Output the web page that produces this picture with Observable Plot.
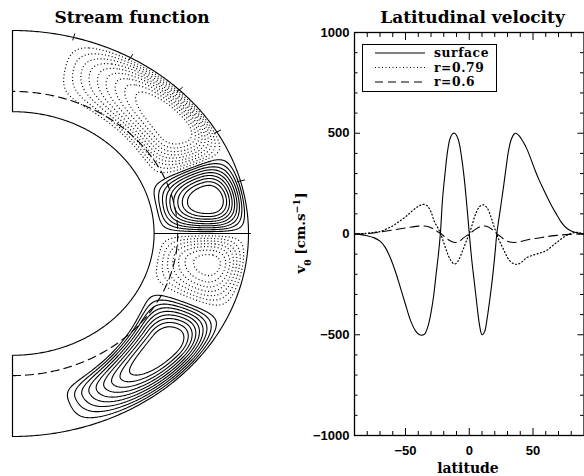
<!DOCTYPE html>
<html><head><meta charset="utf-8">
<script src="https://cdn.jsdelivr.net/npm/d3@7"></script>
<script src="https://cdn.jsdelivr.net/npm/@observablehq/plot@0.6"></script>
<style>
body{margin:0;background:#fff;}
#wrap{position:relative;width:584px;height:476px;overflow:hidden;background:#fff;}
#wrap svg{position:absolute;left:0;top:0;}
</style></head><body><div id="wrap"></div>
<script>
// ---------- Right panel: latitudinal velocity (cm/s) vs latitude ----------
const surfLat = [-90,-85,-80,-75,-70,-66,-62,-58,-54,-50,-46,-42,-39,-37,-35,-32,-30,-28,-26,-24,-22.5,-21,-19,-17,-15,-13,-11.5,-10,-8,-6,-4,-2,0,2,4,6,8,10,12,14,16,18,20,21.6,23,25,27,29,31,33,35,36.5,39,42,45,48,52,55,58,62,65,68.5,72,76,80,85,90];
const surfV = [0,-3,-9,-18,-35,-65,-117,-185,-266,-350,-430,-482,-500,-502,-497,-450,-390,-310,-200,-90,15,170,300,411,475,498,500,490,455,380,280,150,5,-130,-240,-350,-450,-500,-485,-420,-330,-230,-110,0,65,150,240,335,420,470,495,500,488,460,425,378,310,265,225,172,135,97,60,31,15,5,0];
const dotLat = [-90,-85,-80,-75,-70,-65,-60,-55,-50,-45,-40,-36,-33,-30,-27.5,-25,-23,-21,-18,-15,-12,-10,-8,-5,-2,0,2,5,8,11,14,17,19,21,23,26,29,32,35,38,41,45,50,55,60,65,70,75,80,85,90];
const dotV = [0,2,4,8,12,25,40,62,85,113,137,147,140,110,64,35,10,-25,-80,-125,-148,-145,-125,-80,-30,0,40,100,135,145,130,85,45,10,-25,-65,-105,-135,-148,-150,-140,-118,-105,-95,-84,-60,-35,-12,3,8,0];
const dashLat = [-90,-85,-80,-75,-70,-65,-60,-55,-50,-45,-40,-36,-32,-28,-25,-22,-19,-16,-13,-11,-8,-5,-2,0,3,6,9,12,15,18,21,23,26,29,32,35,38,42,47,52,57,62,67,72,78,84,90];
const dashV = [0,0,2,5,10,15,20,25,30,35,39,40,36,25,12,0,-15,-30,-40,-42,-37,-22,-8,0,15,28,37,40,35,22,5,-5,-20,-33,-40,-42,-40,-35,-27,-22,-17,-12,-8,-5,-2,0,0];
const seriesNames = ["surface", "r=0.79", "r=0.6"];
const xMajor = [-50, 0, 50];
const xMinor = [-80,-70,-60,-40,-30,-20,-10,10,20,30,40,60,70,80];
const yMajor = [-1000, -500, 0, 500, 1000];
const yMinor = [-900,-800,-700,-600,-400,-300,-200,-100,100,200,300,400,600,700,800,900];

// ---------- Left panel: stream function cells (meridional plane) ----------
const shellInner = 0.6, tachocline = 0.7;
const boundaryTickLat = [15, 30, 45, 60, 75];
const cellSign    = [1, -1, -1, 1];
const cellLatLo   = [0, 23, -24, -76];
const cellLatPeak = [11, 37, -10, -40];
const cellLatHi   = [24, 77, 0, -24];
const cellRPeak   = [0.85, 0.87, 0.85, 0.85];
const cellRLoEq   = [0.61, 0.65, 0.61, 0.62];
const cellRLoPole = [0.61, 0.68, 0.61, 0.78];
const cellAmp     = [1.1, 1.1, 0.78, 1.1];
const psiLevels   = [0.1,0.2,0.3,0.4,0.5,0.6,0.7,0.8,0.9];
const shapePow = 1.0;

function bump(u, a, c, b) {
  if (u <= a || u >= b) return 0;
  return u < c ? Math.sin(Math.PI / 2 * (u - a) / (c - a)) : Math.sin(Math.PI / 2 * (b - u) / (b - c));
}
function psi(s, z) {
  const r = Math.hypot(s, z);
  if (s < 0 || r <= shellInner || r >= 1) return 0;
  const lat = Math.atan2(z, s) * 180 / Math.PI;
  let v = 0;
  for (let i = 0; i < cellSign.length; i++) {
    const lo = cellLatLo[i], hi = cellLatHi[i];
    if (lat <= lo || lat >= hi) continue;
    const eqEdge = Math.abs(lo) < Math.abs(hi) ? lo : hi;
    const poleEdge = eqEdge === lo ? hi : lo;
    const f = (lat - eqEdge) / (poleEdge - eqEdge);
    const rLo = cellRLoEq[i] + (cellRLoPole[i] - cellRLoEq[i]) * f;
    const b = bump(lat, lo, cellLatPeak[i], hi) * bump(r, rLo, cellRPeak[i], 1);
    v += cellSign[i] * cellAmp[i] * Math.pow(b, shapePow);
  }
  return v;
}
const rad = Math.PI / 180;
const arcLats = d3.range(-90, 90.001, 0.5);
const arc = (r) => arcLats.map(lat => ({s: r * Math.cos(lat * rad), z: r * Math.sin(lat * rad)}));

const wrap = document.getElementById("wrap");

const left = Plot.plot({
  width: 290, height: 476, margin: 0,
  x: {domain: [0, 1], range: [12, 248], axis: null},
  y: {domain: [-1, 1], range: [436, 30], axis: null},
  style: {background: "transparent", overflow: "visible"},
  marks: [
    Plot.contour({value: (x, y) => psi(x, y), x1: 0, x2: 1, y1: -1, y2: 1, pixelSize: 1,
      thresholds: psiLevels, stroke: "black", fill: "none", strokeWidth: 1.1}),
    Plot.contour({value: (x, y) => -psi(x, y), x1: 0, x2: 1, y1: -1, y2: 1, pixelSize: 1,
      thresholds: psiLevels, stroke: "black", fill: "none", strokeWidth: 1.2, strokeDasharray: "1,2.4"}),
    Plot.line(arc(tachocline), {x: "s", y: "z", stroke: "black", strokeWidth: 1.1, strokeDasharray: "8,5"}),
    Plot.line(arc(1), {x: "s", y: "z", stroke: "black", strokeWidth: 1.1}),
    Plot.line(arc(shellInner), {x: "s", y: "z", stroke: "black", strokeWidth: 1.1}),
    Plot.link([{z1: shellInner, z2: 1}, {z1: -shellInner, z2: -1}], {x1: 0, x2: 0, y1: "z1", y2: "z2", stroke: "black", strokeWidth: 1.2}),
    Plot.link([{s1: shellInner, s2: 1.01}], {x1: "s1", x2: "s2", y1: 0, y2: 0, stroke: "black", strokeWidth: 1.1}),
    Plot.link(boundaryTickLat, {
      x1: d => 0.985 * Math.cos(d * rad), y1: d => 0.985 * Math.sin(d * rad),
      x2: d => 1.02 * Math.cos(d * rad), y2: d => 1.02 * Math.sin(d * rad),
      stroke: "black", strokeWidth: 1})
  ]
});
wrap.appendChild(left);

const W = 584, H = 476, mL = 354, mR = 0.5, mT = 32, mB = 41;
const uy = 2000 / (H - mT - mB);
const ux = 180 / (W - mL - mR);
const fmt = d => d < 0 ? "\u2212" + Math.abs(d) : String(d);
const rows = (lat, v) => lat.map((l, i) => ({lat: l, v: v[i]}));

const right = Plot.plot({
  width: W, height: H, marginLeft: mL, marginRight: mR, marginTop: mT, marginBottom: mB,
  x: {domain: [-90, 90], label: null},
  y: {domain: [-1000, 1000], label: null},
  style: {background: "transparent", overflow: "visible", fontFamily: "Liberation Sans", fontSize: "13px", fontWeight: "bold"},
  marks: [
    Plot.frame({stroke: "black", strokeWidth: 1.3}),
    Plot.ruleX(xMajor.concat(xMinor), {x: d => d, y1: -1000, y2: d => -1000 + (xMajor.includes(d) ? 7 : 4) * uy, stroke: "black"}),
    Plot.ruleX(xMajor.concat(xMinor), {x: d => d, y1: 1000, y2: d => 1000 - (xMajor.includes(d) ? 8 : 5) * uy, stroke: "black"}),
    Plot.ruleY(yMajor.concat(yMinor), {y: d => d, x1: -90, x2: d => -90 + (yMajor.includes(d) ? 6 : 3.5) * ux, stroke: "black"}),
    Plot.ruleY(yMajor.concat(yMinor), {y: d => d, x1: 90, x2: d => 90 - (yMajor.includes(d) ? 6 : 3.5) * ux, stroke: "black"}),
    Plot.axisY({ticks: yMajor, tickSize: 0, tickPadding: 5, tickFormat: fmt, label: null}),
    Plot.axisX({ticks: xMajor, tickSize: 0, tickPadding: 10, tickFormat: fmt, label: null}),
    Plot.line(rows(dashLat, dashV), {x: "lat", y: "v", stroke: "black", strokeWidth: 1.1, strokeDasharray: "9,5", curve: "catmull-rom"}),
    Plot.line(rows(dotLat, dotV), {x: "lat", y: "v", stroke: "black", strokeWidth: 1.2, strokeDasharray: "1,2.5", curve: "catmull-rom"}),
    Plot.line(rows(surfLat, surfV), {x: "lat", y: "v", stroke: "black", strokeWidth: 1.1, curve: "catmull-rom"})
  ]
});
wrap.appendChild(right);

// ---------- Titles, axis labels, legend ----------
const ov = d3.create("svg").attr("width", W).attr("height", H)
  .style("font-family", "'DejaVu Serif', serif").style("font-weight", "bold");
ov.append("text").attr("x", 132).attr("y", 22.5).attr("text-anchor", "middle").attr("font-size", 17).text("Stream function");
ov.append("text").attr("x", 472.5).attr("y", 22.5).attr("text-anchor", "middle").attr("font-size", 17).text("Latitudinal velocity");
ov.append("text").attr("x", 468).attr("y", 473).attr("text-anchor", "middle").attr("font-size", 14).text("latitude");
const yl = ov.append("text").attr("transform", "translate(305,233) rotate(-90)").attr("text-anchor", "middle").attr("font-size", 13.5);
yl.append("tspan").text("v");
yl.append("tspan").attr("baseline-shift", "sub").attr("font-size", 9.5).text("\u03b8");
yl.append("tspan").text(" [cm.s");
yl.append("tspan").attr("baseline-shift", "super").attr("font-size", 9.5).text("\u22121");
yl.append("tspan").text("]");

const lg = ov.append("g");
lg.append("rect").attr("x", 362.5).attr("y", 44.5).attr("width", 134).attr("height", 47)
  .attr("fill", "none").attr("stroke", "black").attr("stroke-width", 1);
const dashes = [null, "1,2.5", "8,5"];
const lineY = [53, 67.5, 82];
seriesNames.forEach((name, i) => {
  lg.append("line").attr("x1", 375).attr("x2", 425).attr("y1", lineY[i]).attr("y2", lineY[i])
    .attr("stroke", "black").attr("stroke-width", i === 1 ? 1.2 : 1.1).attr("stroke-dasharray", dashes[i]);
  lg.append("text").attr("x", 434).attr("y", lineY[i] + 4.3).attr("font-size", 12.3)
    .attr("letter-spacing", 0.6).text(name);
});
wrap.appendChild(ov.node());
</script>
</body></html>
